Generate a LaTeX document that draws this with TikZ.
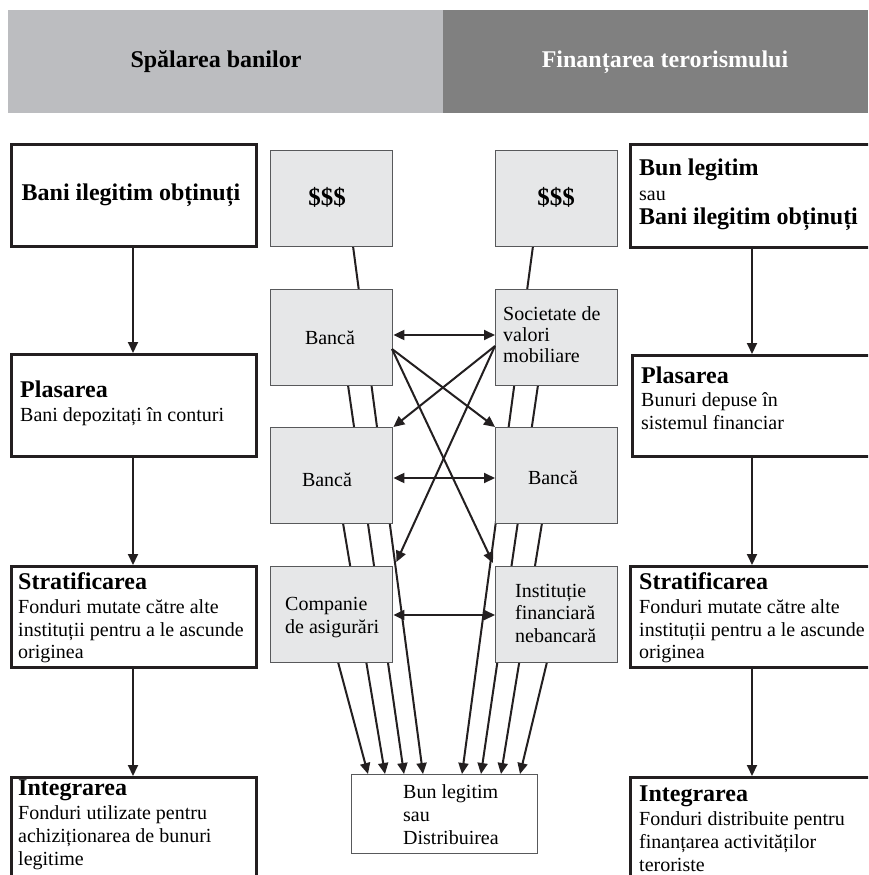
\documentclass[tikz,border=0pt]{standalone}
\usepackage{fontspec}
\setmainfont{Liberation Serif}
\usetikzlibrary{arrows.meta,calc}
\definecolor{hdrL}{RGB}{188,189,192}
\definecolor{hdrR}{RGB}{128,128,128}
\definecolor{cfill}{RGB}{230,231,232}
\definecolor{cline}{RGB}{88,89,91}
\definecolor{ink}{RGB}{35,31,32}
\begin{document}
\begin{tikzpicture}[x=1pt,y=-1pt,
  hdrbox/.style={draw=none,inner sep=0,anchor=north west,minimum height=103pt},
  sidebox/.style={draw=ink,line width=3.2pt,fill=white,inner sep=0,anchor=north west},
  ctrbox/.style={draw=cline,line width=1.4pt,fill=cfill,inner sep=0,anchor=north west,minimum width=122pt,minimum height=96pt},
  hd/.style={font=\fontsize{24}{26}\selectfont\bfseries,anchor=base west,inner sep=0},
  tx/.style={font=\fontsize{20}{23}\selectfont,anchor=base west,inner sep=0},
  tip/.tip={Triangle[length=11pt,width=10pt]},
  arr/.style={draw=ink,line width=2pt,-tip},
  dbl/.style={draw=ink,line width=2pt,tip-tip},
  ln/.style={draw=ink,line width=2pt}
]
\useasboundingbox (0,0) rectangle (868,875);
\clip (0,0) rectangle (868,875);
\fill[white] (0,0) rectangle (868,875);
% header
\node[hdrbox,fill=hdrL,minimum width=435pt] (hL) at (8,10) {};
\node[hdrbox,fill=hdrR,minimum width=425pt] (hR) at (443,10) {};
\node[hd,anchor=base] (hLt) at (216,67) {Spălarea banilor};
\node[hd,anchor=base,text=white] (hRt) at (665,67) {Finanțarea terorismului};

% named end points
\coordinate (sA) at (353,246); \coordinate (eA) at (423,774);
\coordinate (sB) at (348,385); \coordinate (eB) at (404,774);
\coordinate (sC) at (343,523); \coordinate (eC) at (385,774);
\coordinate (sD) at (338,662); \coordinate (eD) at (368,774);
\coordinate (sE) at (533,246); \coordinate (eE) at (462,774);
\coordinate (sF) at (538,385); \coordinate (eF) at (481,774);
\coordinate (sG) at (542,523); \coordinate (eG) at (501,774);
\coordinate (sH) at (547,662); \coordinate (eH) at (520,774);

% long lines (behind boxes)
\draw[arr] (sA) -- (eA);
\draw[arr] (sB) -- (eB);
\draw[arr] (sC) -- (eC);
\draw[arr] (sD) -- (eD);
\draw[arr] (sE) -- (eE);
\draw[arr] (sF) -- (eF);
\draw[arr] (sG) -- (eG);
\draw[arr] (sH) -- (eH);

% centre boxes
\node[ctrbox] (c1l) at (270,150) {};
\node[ctrbox] (c1r) at (495,150) {};
\node[ctrbox] (c2l) at (270,289) {};
\node[ctrbox] (c2r) at (495,289) {};
\node[ctrbox] (c3l) at (270,427) {};
\node[ctrbox] (c3r) at (495,427) {};
\node[ctrbox] (c4l) at (270,566) {};
\node[ctrbox] (c4r) at (495,566) {};
\node[draw=cline,line width=1.4pt,fill=white,inner sep=0,anchor=north west,minimum width=186pt,minimum height=79pt] (bot) at (351,774) {};

\node[font=\fontsize{25}{27}\selectfont\bfseries,inner sep=0,anchor=base] (t1l) at (327,205) {\$\$\$};
\node[font=\fontsize{25}{27}\selectfont\bfseries,inner sep=0,anchor=base] (t1r) at (556,205) {\$\$\$};
\node[tx,anchor=base] (t2l) at (330,344) {Bancă};
\node[tx] (t2ra) at (503,320) {Societate de};
\node[tx] (t2rb) at (503,341) {valori};
\node[tx] (t2rc) at (503,362) {mobiliare};
\node[tx,anchor=base] (t3l) at (327,486) {Bancă};
\node[tx,anchor=base] (t3r) at (553,484) {Bancă};
\node[tx] (t4la) at (285,610) {Companie};
\node[tx] (t4lb) at (285,633) {de asigurări};
\node[tx] (t4ra) at (515,597) {Instituție};
\node[tx] (t4rb) at (515,619) {financiară};
\node[tx] (t4rc) at (515,642) {nebancară};
\node[tx] (tba) at (403,798) {Bun legitim};
\node[tx] (tbb) at (403,821) {sau};
\node[tx] (tbc) at (403,844) {Distribuirea};

% horizontal double arrows
\draw[dbl] (c2l.east |- 0,335) -- (c2r.west |- 0,335);
\draw[dbl] (c3l.east |- 0,478) -- (c3r.west |- 0,478);
\draw[dbl] (c4l.east |- 0,615) -- (c4r.west |- 0,615);

% crossing arrows
\coordinate (xl) at (392,349);
\coordinate (xr) at (495,346);
\draw[arr] (xl) -- (c3r.north west);
\draw[arr] (xl) -- ($(c4r.north west)+(-2,-3)$);
\draw[arr] (xr) -- (c3l.north east);
\draw[arr] (xr) -- ($(c4l.north east)+(3,-4)$);

% side boxes
\node[sidebox,minimum width=245pt,minimum height=102pt] (L1) at (10,143) {};
\node[sidebox,minimum width=245pt,minimum height=102pt] (L2) at (10,353) {};
\node[sidebox,minimum width=245pt,minimum height=101pt] (L3) at (10,565) {};
\node[sidebox,minimum width=245pt,minimum height=130pt] (L4) at (10,776) {};
\node[sidebox,minimum width=270pt,minimum height=103pt] (R1) at (629,143) {};
\node[sidebox,minimum width=270pt,minimum height=101pt] (R2) at (631,354) {};
\node[sidebox,minimum width=270pt,minimum height=101pt] (R3) at (629,565) {};
\node[sidebox,minimum width=270pt,minimum height=130pt] (R4) at (629,776) {};

\coordinate (ax) at (133,0);
\coordinate (bx) at (752,0);
\draw[arr] (L1.south -| ax) -- (L2.north -| ax);
\draw[arr] (L2.south -| ax) -- (L3.north -| ax);
\draw[arr] (L3.south -| ax) -- (L4.north -| ax);
\draw[arr] (R1.south -| bx) -- (R2.north -| bx);
\draw[arr] (R2.south -| bx) -- (R3.north -| bx);
\draw[arr] (R3.south -| bx) -- (R4.north -| bx);

% left texts
\node[hd,anchor=base] (l1t) at (131,200) {Bani ilegitim obținuți};
\node[hd] (l2h) at (20,397) {Plasarea};
\node[tx] (l2a) at (20,421) {Bani depozitați în conturi};
\node[hd] (l3h) at (18,589) {Stratificarea};
\node[tx] (l3a) at (18,613) {Fonduri mutate către alte};
\node[tx] (l3b) at (18,636) {instituții pentru a le ascunde};
\node[tx] (l3c) at (18,658) {originea};
\node[hd] (l4h) at (18,795) {Integrarea};
\node[tx] (l4a) at (18,819) {Fonduri utilizate pentru};
\node[tx] (l4b) at (18,842) {achiziționarea de bunuri};
\node[tx] (l4c) at (18,865) {legitime};

% right texts
\node[hd] (r1h) at (639,175) {Bun legitim};
\node[tx] (r1a) at (639,200) {sau};
\node[hd] (r1b) at (639,224) {Bani ilegitim obținuți};
\node[hd] (r2h) at (641,383) {Plasarea};
\node[tx] (r2a) at (641,406) {Bunuri depuse în};
\node[tx] (r2b) at (641,429) {sistemul financiar};
\node[hd] (r3h) at (639,589) {Stratificarea};
\node[tx] (r3a) at (639,613) {Fonduri mutate către alte};
\node[tx] (r3b) at (639,636) {instituții pentru a le ascunde};
\node[tx] (r3c) at (639,658) {originea};
\node[hd] (r4h) at (639,801) {Integrarea};
\node[tx] (r4a) at (639,825) {Fonduri distribuite pentru};
\node[tx] (r4b) at (639,848) {finanțarea activităților};
\node[tx] (r4c) at (639,871) {teroriste};
\end{tikzpicture}
\end{document}
